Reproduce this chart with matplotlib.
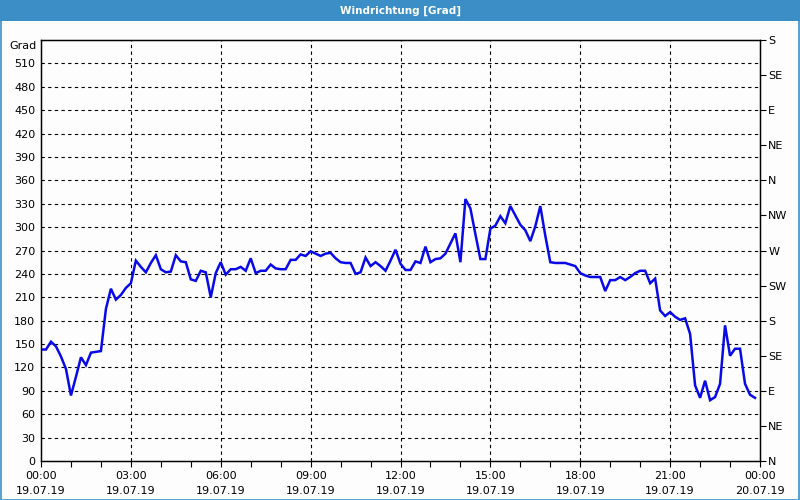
import numpy as np
import matplotlib
matplotlib.use("Agg")
import matplotlib.pyplot as plt
from matplotlib.patches import Rectangle

# ---- data (10-minute samples, 19.07.19 00:00 .. 23:50) ----
wind_deg = [
    143, 143, 153, 147, 134, 118, 84, 108, 133, 123,
    139, 140, 141, 195, 221, 207, 213, 222, 228, 257,
    249, 242, 254, 264, 246, 242, 243, 264, 256, 255,
    233, 231, 244, 242, 210, 241, 255, 239, 246, 246,
    249, 244, 260, 241, 244, 244, 252, 247, 246, 246,
    258, 258, 265, 263, 269, 266, 263, 266, 267, 260,
    255, 254, 254, 240, 242, 261, 250, 255, 250, 244,
    257, 271, 253, 245, 245, 256, 254, 275, 255, 259,
    260, 266, 279, 292, 255, 336, 324, 291, 259, 259,
    298, 302, 314, 305, 327, 315, 303, 296, 282, 301,
    327, 289, 255, 254, 254, 254, 252, 250, 241, 238,
    236, 236, 236, 218, 232, 232, 236, 232, 236, 241,
    244, 244, 228, 234, 193, 186, 191, 185, 181, 183,
    163, 97, 81, 103, 78, 82, 99, 174, 135, 144,
    144, 99, 85, 81,
]
sample_minutes = 10
hours = np.arange(len(wind_deg)) * sample_minutes / 60.0

left_ticks = list(range(0, 541, 30))
left_labels = [str(v) for v in left_ticks[:-1]]
right_ticks = list(range(0, 541, 45))
right_labels = ["N", "NE", "E", "SE", "S", "SW", "W", "NW", "N", "NE", "E", "SE", "S"]
x_major = [0, 3, 6, 9, 12, 15, 18, 21, 24]
x_labels = ["00:00\n19.07.19", "03:00\n19.07.19", "06:00\n19.07.19", "09:00\n19.07.19",
            "12:00\n19.07.19", "15:00\n19.07.19", "18:00\n19.07.19", "21:00\n19.07.19",
            "00:00\n20.07.19"]
title = "Windrichtung [Grad]"
unit_label = "Grad"

# ---- styling ----
plt.rcParams['font.family'] = ['DejaVu Sans']
plt.rcParams['font.size'] = 8
W, H = 800, 500
bar_color = '#3c8fc6'
fig = plt.figure(figsize=(8, 5), dpi=100, facecolor='#fcfdfc')

# title bar
fig.patches.append(Rectangle((0, 1 - 21 / H), 1, 21 / H, transform=fig.transFigure,
                             facecolor=bar_color, edgecolor='none', zorder=0))
fig.text(0.5, 1 - 10.5 / H, title, color='white', fontweight='bold', fontsize=7.5,
         ha='center', va='center')
# frame border
fig.patches.append(Rectangle((0.5 / W, 0.5 / H), 1 - 1.5 / W, 1 - 1 / H, transform=fig.transFigure,
                             facecolor='none', edgecolor=bar_color, linewidth=1.2, zorder=5))

ax = fig.add_axes([41 / W, 1 - 461 / H, (760 - 41) / W, (461 - 40) / H])
ax.set_facecolor('#fcfdfc')
ax.plot(hours, wind_deg, color='#0a0ae8', linewidth=1.8, zorder=3, solid_joinstyle='miter')

ax.set_xlim(0, 24)
ax.set_ylim(0, 540)

ax.set_yticks(left_ticks[:-1])
ax.set_yticklabels(left_labels)
ax.tick_params(axis='y', which='both', length=0, pad=4)

ax.set_xticks(x_major)
ax.set_xticklabels(x_labels, linespacing=1.6)
ax.set_xticks(np.arange(0, 25, 1), minor=True)
ax.tick_params(axis='x', which='both', direction='out', length=4, width=0.8, pad=3)

for v in left_ticks[1:-1]:
    ax.axhline(v, color='black', linewidth=0.8, linestyle=(0, (3, 3)), zorder=1)
for v in x_major[1:-1]:
    ax.axvline(v, color='black', linewidth=0.8, linestyle=(0, (3, 3)), zorder=1)

for s in ax.spines.values():
    s.set_color('black')
    s.set_linewidth(1.0)

ax2 = ax.twinx()
ax2.set_ylim(0, 540)
ax2.set_yticks(right_ticks)
ax2.set_yticklabels(right_labels)
ax2.tick_params(axis='y', direction='out', length=4, width=0.8, pad=2)

fig.text(37 / W, 1 - 46 / H, unit_label, ha='right', va='center', fontsize=8)

fig.savefig('out.png', dpi=100, facecolor=fig.get_facecolor())
